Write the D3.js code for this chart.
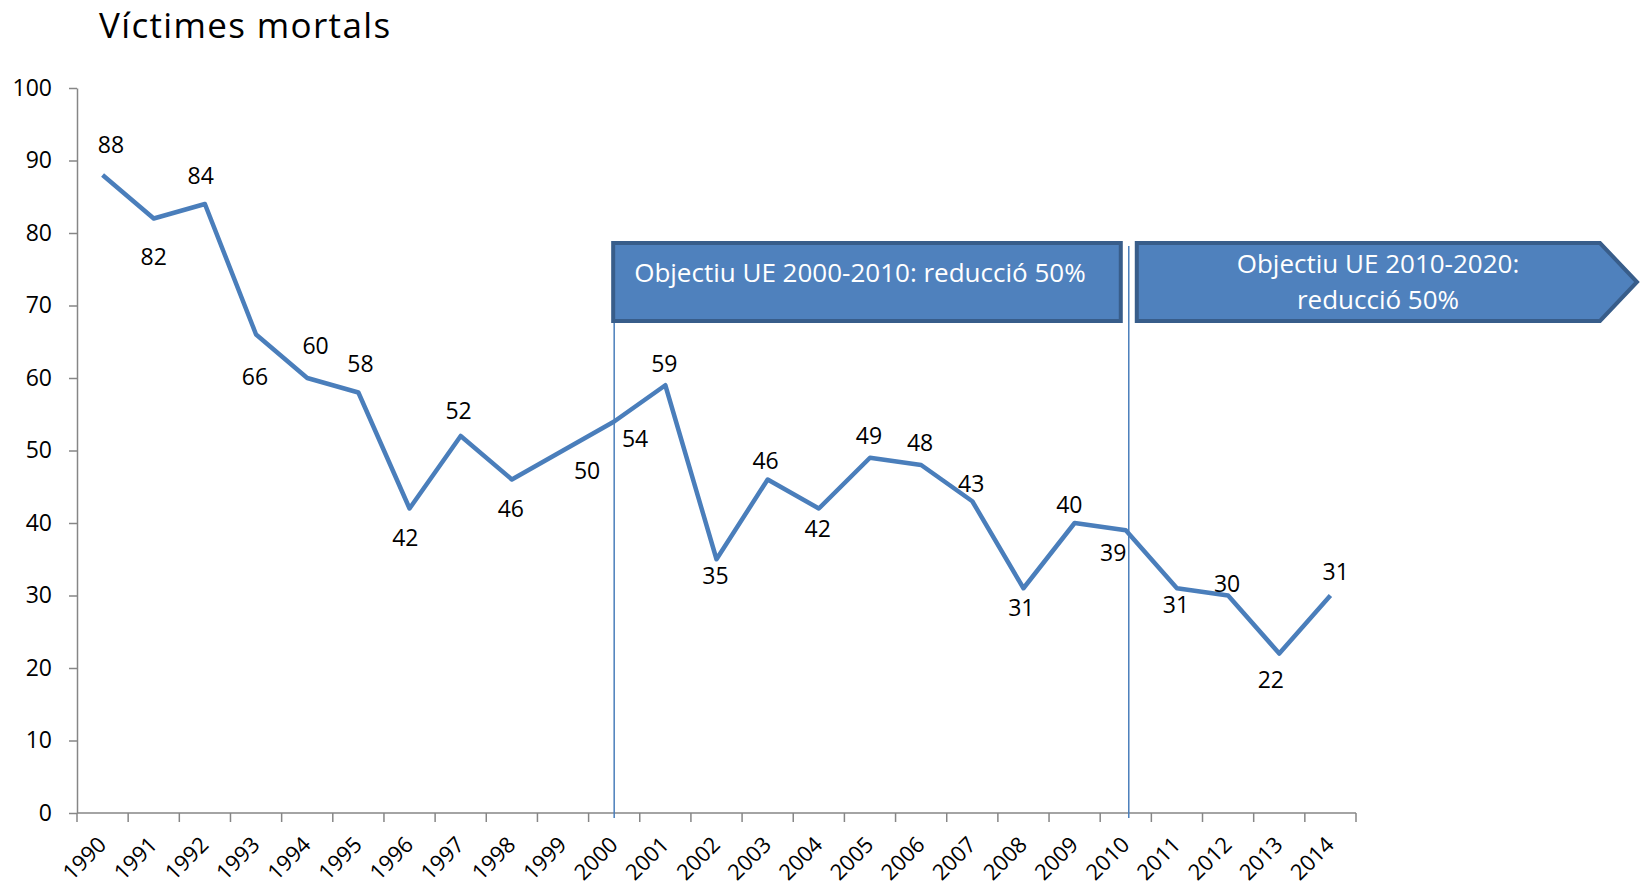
<!DOCTYPE html>
<html>
<head>
<meta charset="utf-8">
<script src="https://cdn.jsdelivr.net/npm/d3@7"></script>
<style>
  body { margin: 0; background: #fff; }
  text { font-family: "Open Sans", sans-serif; }
</style>
</head>
<body>
<div id="chart"></div>
<script>
'use strict';

// data
let years = ['1990', '1991', '1992', '1993', '1994', '1995', '1996', '1997', '1998', '1999',
  '2000', '2001', '2002', '2003', '2004', '2005', '2006', '2007', '2008', '2009',
  '2010', '2011', '2012', '2013', '2014'];
let deaths = [88, 82, 84, 66, 60, 58, 42, 52, 46, 50,
  54, 59, 35, 46, 42, 49, 48, 43, 31, 40,
  39, 31, 30, 22, 30];
// printed labels (2014 label says 31 while the line sits at 30)
let labels = ['88', '82', '84', '66', '60', '58', '42', '52', '46', '50',
  '54', '59', '35', '46', '42', '49', '48', '43', '31', '40',
  '39', '31', '30', '22', '31'];
let yTicks = [0, 10, 20, 30, 40, 50, 60, 70, 80, 90, 100];
let goalStart = ['2000', '2010'];
let goalText = [['Objectiu UE 2000-2010: reducció 50%'], ['Objectiu UE 2010-2020:', 'reducció 50%']];

// label nudges relative to each point (layout only)
let labelNudge = [[8, -29], [0, 36], [-4, -27], [-1, 40], [8, -31], [2, -27], [-4, 28], [-2, -24], [-1, 28], [23, 19],
  [20, 16], [-1, -21], [-1, 16], [-2, -18], [-1, 19], [-1, -21], [-1, -21], [-1, -17], [-2, 19], [-5, -17],
  [-12, 21], [-1, 16], [-1, -11], [-8, 25], [5, -23]];

let w = 1643;
let h = 888;
let k = 1643 / 1568;
let lineColor = '#4A7EBB';
let axisColor = '#868686';

let svg = d3.select('#chart').append('svg')
  .attr('width', w)
  .attr('height', h);

let x = d3.scaleBand().domain(years).range([77, 1356]).padding(0);
let y = d3.scaleLinear().domain([0, 100]).range([813, 88]);
let cx = d => x(d) + x.bandwidth() / 2;

// title
svg.append('text')
  .attr('x', 99)
  .attr('y', 38)
  .attr('font-size', 35)
  .attr('letter-spacing', 1.35)
  .attr('fill', '#000')
  .text('Víctimes mortals');

// y axis
let yAxis = svg.append('g')
  .attr('transform', 'translate(77,0)')
  .call(d3.axisLeft(y).tickValues(yTicks).tickSize(8).tickSizeOuter(0).tickPadding(17));
yAxis.select('.domain').attr('stroke', axisColor).attr('stroke-width', 1.5);
yAxis.selectAll('.tick line').attr('stroke', axisColor).attr('stroke-width', 1.5);
yAxis.selectAll('.tick text')
  .attr('font-size', 23)
  .attr('font-family', '"Open Sans", sans-serif')
  .attr('fill', '#000');

// x axis (ticks between categories)
let xAxis = svg.append('g').attr('transform', 'translate(0,813)');
xAxis.append('line')
  .attr('x1', 77).attr('x2', 1356)
  .attr('stroke', axisColor).attr('stroke-width', 1.5);
xAxis.selectAll('line.tk')
  .data(years.concat(['end']))
  .enter()
  .append('line')
  .attr('class', 'tk')
  .attr('x1', (d, i) => i < years.length ? x(d) : x.range()[1])
  .attr('x2', (d, i) => i < years.length ? x(d) : x.range()[1])
  .attr('y1', 0).attr('y2', 9)
  .attr('stroke', axisColor).attr('stroke-width', 1.5);
xAxis.selectAll('text')
  .data(years)
  .enter()
  .append('text')
  .attr('transform', d => `translate(${cx(d) + 5},${33}) rotate(-45)`)
  .attr('text-anchor', 'end')
  .attr('font-size', 22)
  .attr('fill', '#000')
  .text(d => d);

// objective markers
svg.append('line')
  .attr('x1', cx(goalStart[0])).attr('x2', cx(goalStart[0]))
  .attr('y1', 321).attr('y2', 818)
  .attr('stroke', lineColor).attr('stroke-width', 1.5);
svg.append('line')
  .attr('x1', cx(goalStart[1]) + 3).attr('x2', cx(goalStart[1]) + 3)
  .attr('y1', 246).attr('y2', 818)
  .attr('stroke', lineColor).attr('stroke-width', 1.5);

let boxTop = 243;
let boxBot = 321;
let b1x0 = cx(goalStart[0]) - 1;
let b1x1 = cx(goalStart[1]) - 5;
svg.append('rect')
  .attr('x', b1x0).attr('y', boxTop)
  .attr('width', b1x1 - b1x0).attr('height', boxBot - boxTop)
  .attr('fill', '#4F81BD')
  .attr('stroke', '#385D8A')
  .attr('stroke-width', 4);
svg.append('text')
  .attr('x', b1x0 + 21)
  .attr('y', 282)
  .attr('font-size', 26)
  .attr('fill', '#fff')
  .text(goalText[0][0]);

let b2x0 = cx(goalStart[1]) + 11;
let b2x1 = 1600;
let tip = 1637;
let mid = (boxTop + boxBot) / 2;
svg.append('path')
  .attr('d', `M${b2x0},${boxTop}L${b2x1},${boxTop}L${tip},${mid}L${b2x1},${boxBot}L${b2x0},${boxBot}Z`)
  .attr('fill', '#4F81BD')
  .attr('stroke', '#385D8A')
  .attr('stroke-width', 4)
  .attr('stroke-linejoin', 'miter');
svg.selectAll('text.g2')
  .data(goalText[1])
  .enter()
  .append('text')
  .attr('class', 'g2')
  .attr('x', 1378)
  .attr('y', (d, i) => 273 + i * 36)
  .attr('text-anchor', 'middle')
  .attr('font-size', 26)
  .attr('fill', '#fff')
  .text(d => d);

// series line
let line = d3.line()
  .x((d, i) => cx(years[i]))
  .y(d => y(d));

svg.append('path')
  .datum(deaths)
  .attr('d', line)
  .attr('fill', 'none')
  .attr('stroke', lineColor)
  .attr('stroke-width', 4.5)
  .attr('stroke-linejoin', 'round');

// data labels
svg.selectAll('text.lbl')
  .data(deaths)
  .enter()
  .append('text')
  .attr('class', 'lbl')
  .attr('x', (d, i) => cx(years[i]) + labelNudge[i][0] * k)
  .attr('y', (d, i) => y(d) + labelNudge[i][1] * k)
  .attr('dy', '0.36em')
  .attr('text-anchor', 'middle')
  .attr('font-size', 23)
  .attr('fill', '#000')
  .text((d, i) => labels[i]);
</script>
</body>
</html>
